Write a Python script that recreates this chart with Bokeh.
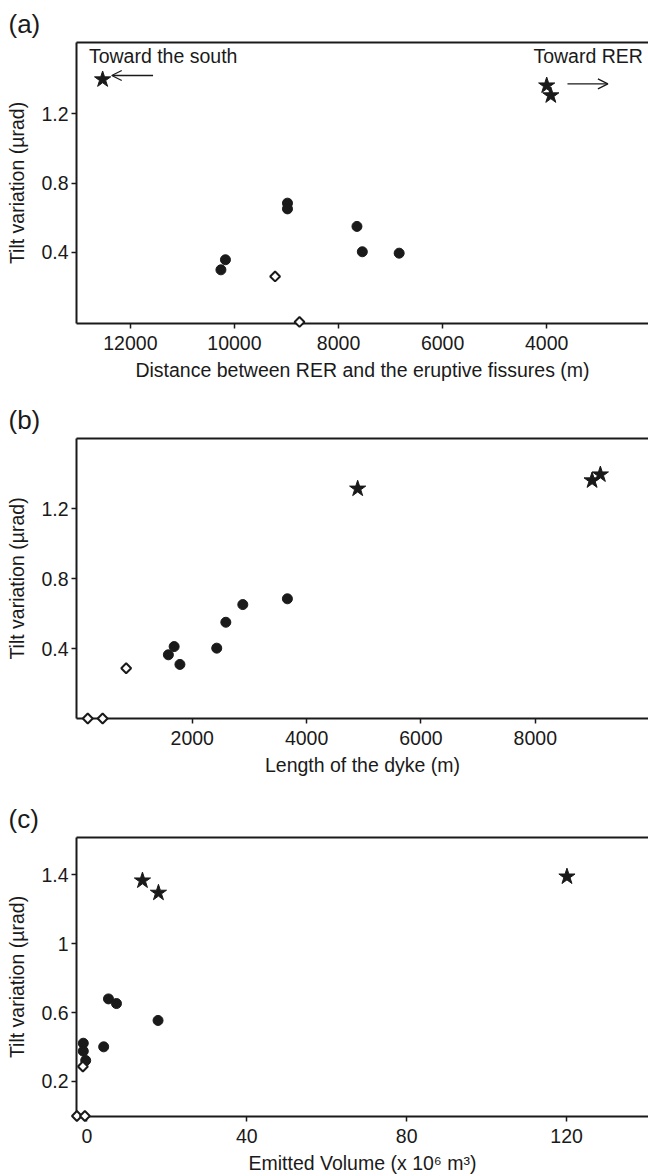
import math
from bokeh.plotting import figure
from bokeh.layouts import column
from bokeh.models import Range1d, FixedTicker, LinearAxis, Arrow, OpenHead, Label
from bokeh.embed import file_html
from bokeh.resources import INLINE

FONT = "Liberation Sans"
FS = "19.5px"
INK = "#1a1a1a"

# ---------------- data ----------------
# (a) tilt vs distance between RER and eruptive fissures (m)
a_star_x = [12533, 4000, 3921]
a_star_y = [1.396, 1.361, 1.304]
a_circ_x = [8981, 8981, 7646, 7543, 6835, 10173, 10260]
a_circ_y = [0.684, 0.651, 0.550, 0.404, 0.396, 0.358, 0.300]
a_diam_x = [9219, 8750]
a_diam_y = [0.262, 0.0]
a_xticks = [12000, 10000, 8000, 6000, 4000]
a_xtick_labels = ["12000", "10000", "8000", "6000", "4000"]
a_yticks = [0.4, 0.8, 1.2]
a_ytick_labels = ["0.4", "0.8", "1.2"]

# (b) tilt vs length of the dyke (m)
b_star_x = [4893, 8993, 9138]
b_star_y = [1.313, 1.360, 1.394]
b_circ_x = [1582, 1683, 1784, 2428, 2587, 2884, 3664]
b_circ_y = [0.364, 0.411, 0.309, 0.402, 0.550, 0.651, 0.684]
b_diam_x = [172, 432, 844]
b_diam_y = [0.0, 0.0, 0.287]
b_xticks = [2000, 4000, 6000, 8000]
b_xtick_labels = ["2000", "4000", "6000", "8000"]
b_yticks = [0.4, 0.8, 1.2]
b_ytick_labels = ["0.4", "0.8", "1.2"]

# (c) tilt vs emitted volume (x 10^6 m3)
c_star_x = [13.9, 17.9, 120.1]
c_star_y = [1.365, 1.294, 1.388]
c_circ_x = [-0.9, -0.9, -0.3, 4.2, 5.4, 7.4, 17.8]
c_circ_y = [0.422, 0.376, 0.322, 0.401, 0.679, 0.652, 0.554]
c_diam_x = [-2.5, -0.5, -1.0]
c_diam_y = [0.0, 0.0, 0.287]
c_xticks = [0, 40, 80, 120]
c_xtick_labels = ["0", "40", "80", "120"]
c_yticks = [0.2, 0.6, 1.0, 1.4]
c_ytick_labels = ["0.2", "0.6", "1", "1.4"]

Y_LABEL = "Tilt variation (µrad)"


def make_fig(label, xr, yr, xticks, xlabels, yticks, ylabels, xlabel,
             height, top, bottom, stars, circs, diams):
    p = figure(width=648, height=height, x_range=xr, y_range=yr,
               output_backend="svg", toolbar_location=None,
               min_border_left=76, min_border_right=0,
               min_border_top=top, min_border_bottom=bottom)
    p.outline_line_color = None
    p.xgrid.visible = False
    p.ygrid.visible = False
    p.background_fill_color = "white"
    p.border_fill_color = "white"

    p.title.text = label
    p.title.text_font = FONT
    p.title.text_font_size = "26px"
    p.title.text_font_style = "normal"
    p.title.text_color = INK
    p.title.align = "left"
    p.title.offset = -68
    p.title.standoff = 7

    xax = p.below[0]
    yax = p.left[0]
    for ax in (xax, yax):
        ax.axis_line_width = 2
        ax.axis_line_color = INK
        ax.major_tick_line_width = 1.5
        ax.major_tick_line_color = INK
        ax.major_tick_out = 5
        ax.major_tick_in = 0
        ax.minor_tick_out = 0
        ax.minor_tick_in = 0
        ax.major_label_text_font = FONT
        ax.major_label_text_font_size = FS
        ax.major_label_text_color = INK
        ax.axis_label_text_font = FONT
        ax.axis_label_text_font_size = FS
        ax.axis_label_text_font_style = "normal"
        ax.axis_label_text_color = INK

    xax.ticker = FixedTicker(ticks=xticks)
    xax.major_label_overrides = dict(zip(xticks, xlabels))
    xax.major_label_standoff = 7
    xax.axis_label = xlabel
    xax.axis_label_standoff = 6

    yax.ticker = FixedTicker(ticks=yticks)
    yax.major_label_overrides = dict(zip(yticks, ylabels))
    yax.major_label_standoff = 3
    yax.axis_label = Y_LABEL
    yax.axis_label_standoff = 10

    top_ax = LinearAxis(ticker=FixedTicker(ticks=[]),
                        major_label_text_font_size="0px",
                        major_tick_out=0, major_tick_in=0,
                        minor_tick_out=0, minor_tick_in=0,
                        major_label_standoff=0,
                        axis_line_width=2, axis_line_color=INK)
    p.add_layout(top_ax, "above")

    r1 = p.scatter(circs[0], circs[1], marker="circle", size=10,
                   fill_color=INK, line_color=INK)
    r2 = p.scatter(stars[0], stars[1], marker="star", size=17,
                   fill_color=INK, line_color=INK, line_width=1)
    r3 = p.scatter(diams[0], diams[1], marker="square", size=7,
                   angle=math.pi / 4, fill_color="white",
                   line_color=INK, line_width=2)
    for r in (r1, r2, r3):
        r.level = "overlay"
    return p


pa = make_fig("(a)", Range1d(13035, 2044), Range1d(-0.009, 1.609),
              a_xticks, a_xtick_labels, a_yticks, a_ytick_labels,
              "Distance between RER and the eruptive fissures (m)",
              392, 42, 69,
              (a_star_x, a_star_y), (a_circ_x, a_circ_y), (a_diam_x, a_diam_y))

# direction annotations in panel (a)
pa.add_layout(Label(x=12797, y=1.53, text="Toward the south",
                    text_font=FONT, text_font_size=FS, text_color=INK,
                    text_baseline="middle", text_align="left"))
pa.add_layout(Label(x=4255, y=1.53, text="Toward RER",
                    text_font=FONT, text_font_size=FS, text_color=INK,
                    text_baseline="middle", text_align="left"))
pa.add_layout(Arrow(x_start=11564, y_start=1.419, x_end=12358, y_end=1.419,
                    line_color=INK, line_width=1.3,
                    end=OpenHead(size=10, line_color=INK, line_width=1.3)))
pa.add_layout(Arrow(x_start=3601, y_start=1.371, x_end=2824, y_end=1.371,
                    line_color=INK, line_width=1.3,
                    end=OpenHead(size=10, line_color=INK, line_width=1.3)))

pb = make_fig("(b)", Range1d(-25, 9980), Range1d(0.0, 1.6),
              b_xticks, b_xtick_labels, b_yticks, b_ytick_labels,
              "Length of the dyke (m)",
              400, 46, 74,
              (b_star_x, b_star_y), (b_circ_x, b_circ_y), (b_diam_x, b_diam_y))

pc = make_fig("(c)", Range1d(-2.6, 140.5), Range1d(-0.003, 1.615),
              c_xticks, c_xtick_labels, c_yticks, c_ytick_labels,
              "Emitted Volume (x 10⁶ m³)",
              384, 45, 60,
              (c_star_x, c_star_y), (c_circ_x, c_circ_y), (c_diam_x, c_diam_y))

layout = column(pa, pb, pc, spacing=0)

with open("out.html", "w") as f:
    f.write(file_html(layout, INLINE))
